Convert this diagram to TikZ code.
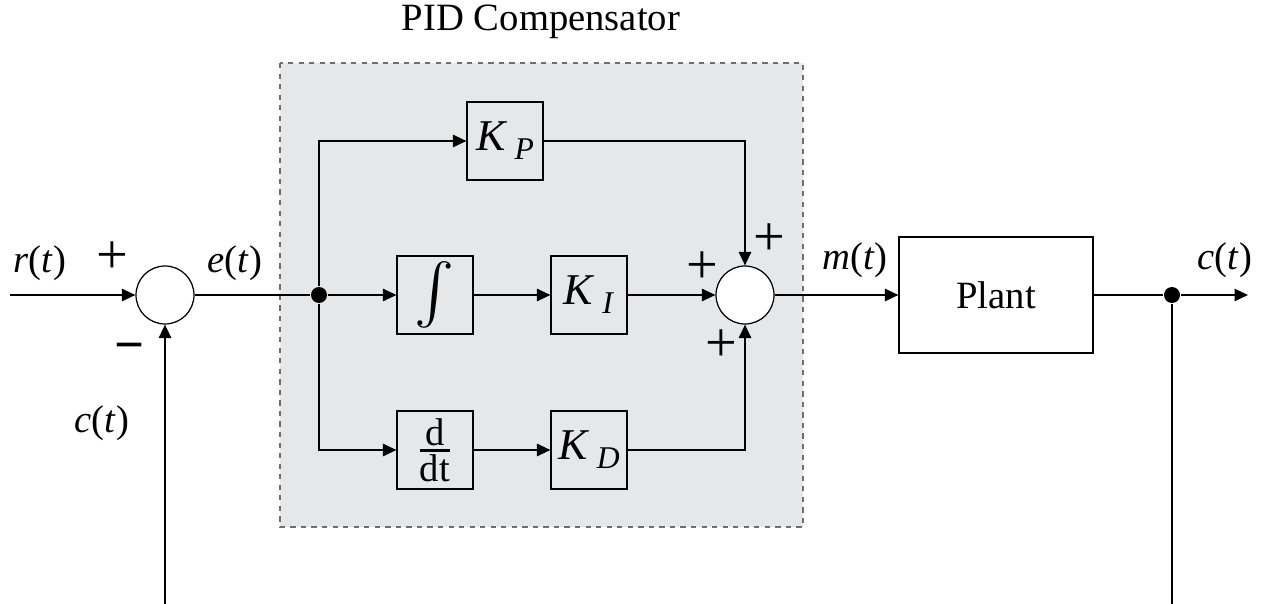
\documentclass[tikz,border=0pt]{standalone}
\usepackage{amsmath}
\usepackage{graphicx}
\usepackage{fontspec}
\setmainfont{Liberation Serif}
\usetikzlibrary{arrows.meta, positioning, calc}
\definecolor{panel}{RGB}{230,231,233}
\definecolor{frame}{RGB}{110,110,110}

\begin{document}
\begin{tikzpicture}[x=0.02cm, y=-0.02cm, font=\fontsize{22}{26}\selectfont, line width=0.7pt,
  >={Triangle[length=0.27cm, width=0.25cm]},
  blk/.style={draw, fill=panel, minimum width=1.52cm, minimum height=1.56cm, inner sep=0pt},
  gain/.style={blk, font=\fontsize{25}{28}\selectfont},
  sumnode/.style={draw, circle, fill=white, minimum size=1.16cm, inner sep=0pt},
  junc/.style={circle, fill, inner sep=0pt, minimum size=0.32cm},
  sign/.style={font=\fontsize{32}{34}\selectfont, inner sep=0pt}]
\useasboundingbox (0,0) rectangle (1265,604);
% compensator panel
\draw[dashed, fill=panel, draw=frame] (280,63) rectangle (803,527);
\node (title) at (541,22) {PID Compensator};

\node[sumnode] (s1) at (165,295) {};
\node[sumnode] (s2) at (745,295) {};
\node[gain] (kp) at (505,141) {\textit{K}\,\raisebox{-0.18cm}{\fontsize{18}{20}\selectfont\textit{P}}};
\node[blk] (int) at (435,295) {\scalebox{1.65}{$\int$}};
\node[gain] (ki) at (589,295) {\textit{K}\,\raisebox{-0.18cm}{\fontsize{18}{20}\selectfont\textit{I}}};
\node[blk] (dif) at (435,450) {$\genfrac{}{}{1.4pt}{1}{\textstyle\mathrm{d}}{\textstyle\mathrm{dt}}$};
\node[gain] (kd) at (589,450) {\textit{K}\,\raisebox{-0.18cm}{\fontsize{18}{20}\selectfont\textit{D}}};
\node[draw, minimum width=3.88cm, minimum height=2.32cm] (plant) at (996,295) {Plant};
\node[junc] (j1) at (319,295) {};
\node[junc] (j2) at (1172,295) {};
\coordinate (rin) at (10,295);
\coordinate (cout) at (1248,295);
\coordinate (fbout) at (1172,604);
\coordinate (fbin) at (165,604);

% signals
\draw[->] (rin) -- (s1);
\draw (s1) -- (j1);
\draw[->] (j1) -- (int);
\draw[->] (int) -- (ki);
\draw[->] (ki) -- (s2);
\draw[->] (j1) |- (kp);
\draw[->] (j1) |- (dif);
\draw[->] (dif) -- (kd);
\draw[->] (kp) -| (s2);
\draw[->] (kd) -| (s2);
\draw[->] (s2) -- (plant);
\draw (plant) -- (j2);
\draw[->] (j2) -- (cout);
\draw (j2) -- (fbout);
\draw[->] (fbin) -- (s1);

% labels
\node (lr) at (40,263) {\textit{r}(\textit{t})};
\node (le) at (235,263) {\textit{e}(\textit{t})};
\node (lc1) at (102,423) {\textit{c}(\textit{t})};
\node (lm) at (855,260) {\textit{m}(\textit{t})};
\node (lc2) at (1225,260) {\textit{c}(\textit{t})};
\node[sign] (p1) at (112,258) {+};
\node[sign, font=\fontsize{30}{32}\bfseries] (m1) at (130,353) {−};
\node[sign] (p2) at (769,240) {+};
\node[sign] (p3) at (702,268) {+};
\node[sign] (p4) at (721,346) {+};
\end{tikzpicture}
\end{document}
